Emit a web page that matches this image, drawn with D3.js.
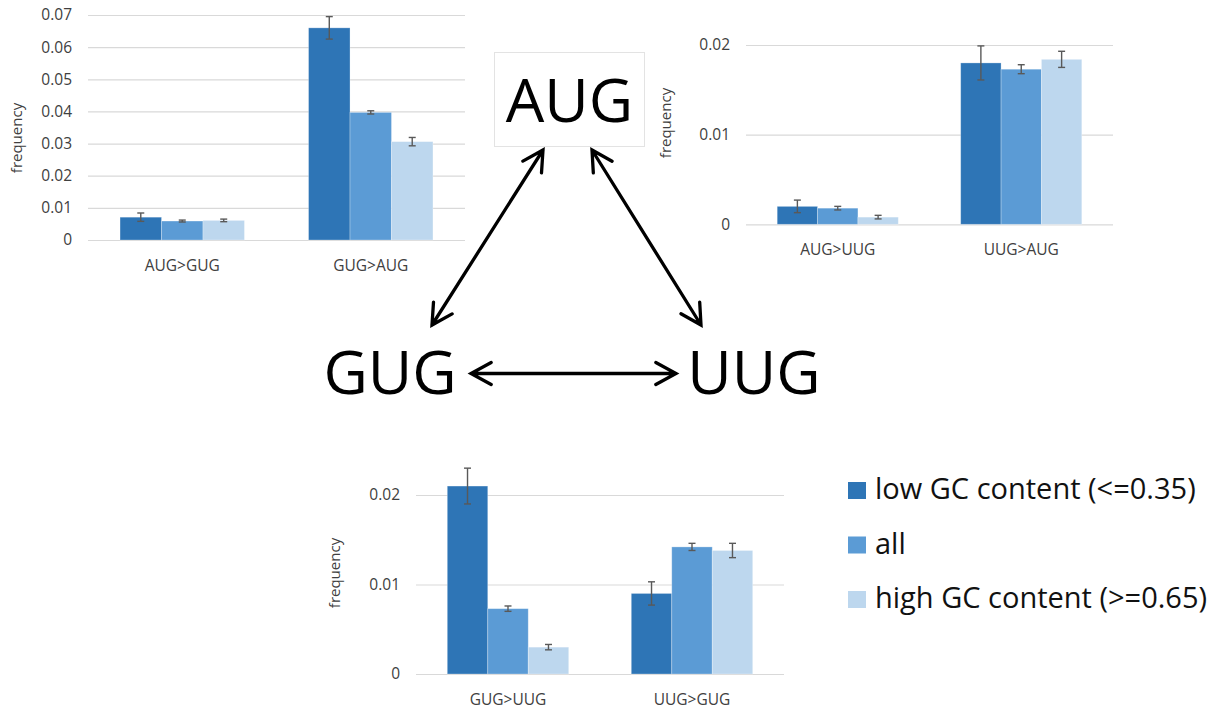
<!DOCTYPE html>
<html><head><meta charset="utf-8">
<script src="https://cdn.jsdelivr.net/npm/d3@7"></script>
<style>
html,body{margin:0;padding:0;background:#fff;}
svg{display:block;font-family:"Open Sans",sans-serif;}
</style></head>
<body>
<svg id="c" width="1219" height="711"></svg>
<script>
// ---------- DATA ----------
const seriesNames = ["low GC content (<=0.35)", "all", "high GC content (>=0.65)"];
const seriesColors = ["#2E75B6", "#5B9BD5", "#BDD7EE"];

const categories1 = ["AUG>GUG", "GUG>AUG"];
const low1 = [0.0071, 0.0660];
const all1 = [0.0059, 0.0397];
const high1 = [0.0061, 0.0306];
const lowErr1 = [0.0013, 0.0035];
const allErr1 = [0.0003, 0.0005];
const highErr1 = [0.0004, 0.0013];
const ticks1 = [0, 0.01, 0.02, 0.03, 0.04, 0.05, 0.06, 0.07];

const categories2 = ["AUG>UUG", "UUG>AUG"];
const low2 = [0.0020, 0.0180];
const all2 = [0.0018, 0.0173];
const high2 = [0.0008, 0.0184];
const lowErr2 = [0.0007, 0.0019];
const allErr2 = [0.0002, 0.0005];
const highErr2 = [0.0002, 0.0009];
const ticks2 = [0, 0.01, 0.02];

const categories3 = ["GUG>UUG", "UUG>GUG"];
const low3 = [0.0210, 0.0090];
const all3 = [0.0073, 0.0142];
const high3 = [0.0030, 0.0138];
const lowErr3 = [0.0020, 0.0013];
const allErr3 = [0.0003, 0.0004];
const highErr3 = [0.0003, 0.0008];
const ticks3 = [0, 0.01, 0.02];

const codons = ["AUG", "GUG", "UUG"];

// ---------- LAYOUT ----------
const svg = d3.select("#c");
const fmt = d => d === 0 ? "0" : d.toFixed(2);

function drawChart(cfg) {
  const {cats, vals, errs, ticks, x0, x1, yZero, yTop, yMax, titleX, titleY} = cfg;
  const g = svg.append("g");
  const x = d3.scaleBand().domain(cats).range([x0, x1]).paddingInner(0.34).paddingOuter(0.17);
  const xs = d3.scaleBand().domain(d3.range(seriesNames.length)).range([0, x.bandwidth()]);
  const y = d3.scaleLinear().domain([0, yMax]).range([yZero, yTop]);

  const yAxis = d3.axisLeft(y).tickValues(ticks).tickFormat(fmt)
    .tickSizeInner(-(x1 - x0)).tickSizeOuter(0).tickPadding(16);
  const ya = g.append("g").attr("transform", `translate(${x0},0)`).call(yAxis);
  ya.select(".domain").remove();
  ya.selectAll("line").attr("stroke", "#D9D9D9").attr("stroke-width", 1.2);
  ya.selectAll("text").attr("fill", "#404040").style("font-size", "15.5px")
    .style("font-family", "'Open Sans',sans-serif");

  const xAxis = d3.axisBottom(x).tickSize(0).tickPadding(0);
  const xa = g.append("g").attr("transform", `translate(0,${yZero})`).call(xAxis);
  xa.select(".domain").remove();
  xa.selectAll("text").attr("dy", null).attr("y", 30.5).attr("fill", "#404040")
    .style("font-size", "15.5px").style("font-family", "'Open Sans',sans-serif");

  const rows = [];
  cats.forEach((c, ci) => {
    seriesNames.forEach((s, si) => rows.push({c, si, v: vals[si][ci], e: errs[si][ci]}));
  });
  g.append("g").selectAll("rect").data(rows).join("rect")
    .attr("x", d => x(d.c) + xs(d.si))
    .attr("width", xs.bandwidth())
    .attr("y", d => y(d.v))
    .attr("height", d => y(0) - y(d.v))
    .attr("fill", d => seriesColors[d.si])
    .attr("stroke", "#ffffff").attr("stroke-opacity", 0.35).attr("stroke-width", 0.8);

  const eg = g.append("g").attr("stroke", "#595959").attr("stroke-width", 1.4).attr("fill", "none");
  rows.forEach(d => {
    const cx = x(d.c) + xs(d.si) + xs.bandwidth() / 2;
    const t = y(d.v + d.e), b = y(d.v - d.e);
    eg.append("line").attr("x1", cx).attr("x2", cx).attr("y1", t).attr("y2", b);
    eg.append("line").attr("x1", cx - 3.5).attr("x2", cx + 3.5).attr("y1", t).attr("y2", t);
    eg.append("line").attr("x1", cx - 3.5).attr("x2", cx + 3.5).attr("y1", b).attr("y2", b);
  });

  g.append("text").attr("transform", `translate(${titleX},${titleY}) rotate(-90)`)
    .attr("text-anchor", "middle").attr("fill", "#404040")
    .style("font-size", "15px").text("frequency");
}

drawChart({cats: categories1, vals: [low1, all1, high1], errs: [lowErr1, allErr1, highErr1],
  ticks: ticks1, x0: 88, x1: 465, yZero: 240, yTop: 15, yMax: 0.07, titleX: 22, titleY: 138});
drawChart({cats: categories2, vals: [low2, all2, high2], errs: [lowErr2, allErr2, highErr2],
  ticks: ticks2, x0: 746, x1: 1113, yZero: 224.3, yTop: 45, yMax: 0.02, titleX: 671, titleY: 123});
drawChart({cats: categories3, vals: [low3, all3, high3], errs: [lowErr3, allErr3, highErr3],
  ticks: ticks3, x0: 416, x1: 784, yZero: 674, yTop: 495, yMax: 0.02, titleX: 340, titleY: 573});

// ---------- CODON DIAGRAM ----------
svg.append("rect").attr("x", 494.5).attr("y", 52.5).attr("width", 150).attr("height", 94)
  .attr("fill", "#fff").attr("stroke", "#E3E3E3").attr("stroke-width", 1);
const codonPos = [[569.5, 122], [390, 394], [754, 394]];
codons.forEach((c, i) => {
  svg.append("text").attr("x", codonPos[i][0]).attr("y", codonPos[i][1])
    .attr("text-anchor", "middle").attr("fill", "#000")
    .style("font-size", "61px").text(c);
});

function arrow(p1, p2) {
  const ang = Math.atan2(p2[1] - p1[1], p2[0] - p1[0]);
  const L = 23, a = 0.5;
  const head = (p, dir) => {
    const b = dir;
    const q1 = [p[0] - L * Math.cos(b - a), p[1] - L * Math.sin(b - a)];
    const q2 = [p[0] - L * Math.cos(b + a), p[1] - L * Math.sin(b + a)];
    return `M${q1[0]},${q1[1]}L${p[0]},${p[1]}L${q2[0]},${q2[1]}`;
  };
  const d = `M${p1[0]},${p1[1]}L${p2[0]},${p2[1]}` + head(p2, ang) + head(p1, ang + Math.PI);
  svg.append("path").attr("d", d).attr("fill", "none").attr("stroke", "#000")
    .attr("stroke-width", 3.3).attr("stroke-linecap", "round").attr("stroke-linejoin", "miter");
}
arrow([543, 150], [432, 325]);
arrow([592, 150], [701, 325]);
arrow([471, 373.5], [676, 373.5]);

// ---------- LEGEND ----------
const lg = svg.append("g");
const legendY = [499, 553.5, 608];
seriesNames.forEach((s, i) => {
  lg.append("rect").attr("x", 848).attr("y", legendY[i] - 17).attr("width", 18).attr("height", 17)
    .attr("fill", seriesColors[i]);
  lg.append("text").attr("x", 875).attr("y", legendY[i]).attr("fill", "#111")
    .style("font-size", "29px").text(s);
});
</script>
</body></html>
